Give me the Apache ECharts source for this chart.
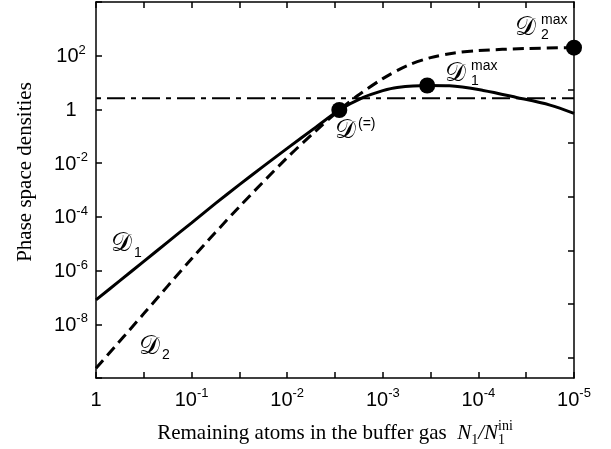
<!DOCTYPE html>
<html><head><meta charset="utf-8">
<script src="https://cdn.jsdelivr.net/npm/echarts@6/dist/echarts.min.js"></script>
<style>html,body{margin:0;padding:0;background:#fff}#c{width:611px;height:449px}</style>
</head><body><div id="c"></div>
<script>
// x: remaining atoms N1/N1ini, y: phase space densities
const ratioD1 = [1, 0.562, 0.316, 0.178, 0.1, 0.0562, 0.0316, 0.0178, 0.01, 0.00501, 0.00285, 0.00162, 0.001, 0.000708, 0.000343, 0.0002, 0.000089, 0.00004, 0.0000178, 0.00001];
const densD1  = [8.1e-8, 4.2e-7, 2.2e-6, 1.15e-5, 6.0e-5, 3.16e-4, 1.58e-3, 7.6e-3, 3.55e-2, 0.219, 0.95, 2.75, 5.0, 6.6, 7.8, 7.6, 5.1, 2.8, 1.45, 0.71];
const ratioD2 = [1, 0.316, 0.1, 0.0316, 0.01, 0.00501, 0.00285, 0.00178, 0.001, 0.000562, 0.000316, 0.000178, 0.0001, 0.0000316, 0.00001];
const densD2  = [2.3e-10, 2.5e-8, 2.75e-6, 2.4e-4, 1.6e-2, 0.16, 0.95, 3.5, 14, 42, 85, 126, 155, 186, 200];
const markRatio = [0.00285, 0.000343, 0.00001];
const markDens  = [0.95, 7.8, 200];
const becThreshold = 2.612;
const xRange = [1e-5, 1];
const yRange = [1e-10, 1e4];
const rightTickValues = [5.6, 0.056, 5.6e-4, 5.6e-6, 5.6e-8, 5.6e-10];

const L = Math.log10;
const pts = (xs, ys) => xs.map((x, i) => [L(x), L(ys[i])]);

const chart = echarts.init(document.getElementById('c'), null, {renderer: 'canvas'});
const black = '#000';
const sansTick = {color: black, fontFamily: 'Liberation Sans, Arial, sans-serif', fontSize: 20};
const rich = {
  b: {fontFamily: 'Liberation Sans, Arial', fontSize: 20, color: black, verticalAlign: 'bottom', lineHeight: 22},
  s: {fontFamily: 'Liberation Sans, Arial', fontSize: 13, color: black, verticalAlign: 'bottom', lineHeight: 22, padding: [0, 0, 10, 0]}
};
function expLabel(v) {
  const e = Math.round(v);
  if (Math.abs(v - e) > 1e-6) return '';
  if (e === 0) return '{b|1}';
  return '{b|10}{s|' + e + '}';
}
const axisLineStyle = {onZero: false, lineStyle: {color: black, width: 1.5}};
const tickStyle = {inside: true, length: 6, lineStyle: {color: black, width: 1.5}};

const option = {
  backgroundColor: '#fff',
  animation: false,
  grid: {left: 96, right: 37, top: 2, bottom: 71, containLabel: false, outerBoundsMode: 'none'},
  xAxis: [
    {type: 'value', min: L(xRange[0]), max: L(xRange[1]), interval: 0.5, inverse: true, position: 'bottom',
      axisLine: axisLineStyle, axisTick: tickStyle, splitLine: {show: false},
      axisLabel: {margin: 10, formatter: expLabel, rich: rich, ...sansTick}},
    {type: 'value', min: L(xRange[0]), max: L(xRange[1]), interval: 0.5, inverse: true, position: 'top',
      axisLine: axisLineStyle, axisTick: tickStyle, splitLine: {show: false}, axisLabel: {show: false}}
  ],
  yAxis: [
    {type: 'value', min: L(yRange[0]), max: L(yRange[1]), interval: 2, position: 'left',
      axisLine: axisLineStyle, axisTick: tickStyle, splitLine: {show: false},
      axisLabel: {margin: 25, align: 'center', rich: rich, ...sansTick,
        formatter: v => (v <= L(yRange[0]) + 0.01 || v >= L(yRange[1]) - 0.01) ? '' : expLabel(v)}},
    {type: 'value', min: L(yRange[0]), max: L(yRange[1]), position: 'right',
      axisLine: axisLineStyle, splitLine: {show: false}, axisLabel: {show: false},
      axisTick: {...tickStyle, customValues: rightTickValues.map(L)}}
  ],
  series: [
    {type: 'line', name: 'threshold', data: [[L(xRange[1]), L(becThreshold)], [L(xRange[0]), L(becThreshold)]],
      symbol: 'none', lineStyle: {color: black, width: 1.8, type: [5, 6, 18, 6]}, z: 1},
    {type: 'line', name: 'D1', data: pts(ratioD1, densD1), smooth: 0.3, symbol: 'none',
      lineStyle: {color: black, width: 3}, z: 2},
    {type: 'line', name: 'D2', data: pts(ratioD2, densD2), smooth: 0.3, symbol: 'none',
      lineStyle: {color: black, width: 3, type: [11, 6]}, z: 2},
    {type: 'scatter', name: 'marks', data: pts(markRatio, markDens), symbol: 'circle', symbolSize: 16,
      itemStyle: {color: black, opacity: 1}, z: 5}
  ]
};
chart.setOption(option);

// annotations (y given as text baseline)
const scriptFont = '26px "DejaVu Serif", "Liberation Serif", serif';
const smallFont = '14px "Liberation Sans", Arial, sans-serif';
function sizeOf(font) { const m = font.match(/(\d+)px/); return m ? +m[1] : 14; }
function t(text, x, y, font, align) {
  return {type: 'text', x: x, y: y + 0.22 * sizeOf(font), style: {text: text, font: font, fill: black, textAlign: align || 'left', textVerticalAlign: 'bottom'}, z: 10};
}
const cv = document.createElement('canvas').getContext('2d');
function w(text, font) { cv.font = font; return cv.measureText(text).width; }

const graphics = [];
// D1
graphics.push(t('\u{1D49F}', 111, 252, scriptFont));
graphics.push(t('1', 134, 257, smallFont));
// D2
graphics.push(t('\u{1D49F}', 139, 355, scriptFont));
graphics.push(t('2', 162, 359, smallFont));
// D(=)
graphics.push(t('\u{1D49F}', 335, 139, scriptFont));
graphics.push(t('(=)', 358, 128, smallFont));
// D1max
graphics.push(t('\u{1D49F}', 445, 82, scriptFont));
graphics.push(t('max', 471, 70, smallFont));
graphics.push(t('1', 471, 85, smallFont));
// D2max
graphics.push(t('\u{1D49F}', 515, 36, scriptFont));
graphics.push(t('max', 541, 24, smallFont));
graphics.push(t('2', 541, 39, smallFont));

// x-axis title
const serif = '21px "Liberation Serif", "Times New Roman", serif';
const serifI = 'italic 21px "Liberation Serif", "Times New Roman", serif';
const subF = '14px "Liberation Serif", serif';
const mainTxt = 'Remaining atoms in the buffer gas  ';
const parts = [
  [mainTxt, serif, 0],
  ['N', serifI, 0],
  ['1', subF, 5],
  ['/', serifI, 0],
  ['N', serifI, 0]
];
let total = 0;
parts.forEach(p => total += w(p[0], p[1]));
const tail = Math.max(w('1', subF), w('ini', subF));
total += tail;
let cx = 335 - total / 2;
const base = 439;
parts.forEach(p => { graphics.push(t(p[0], cx, base + p[2], p[1])); cx += w(p[0], p[1]); });
graphics.push(t('1', cx, base + 5, subF));
graphics.push(t('ini', cx, base - 9, subF));

// y-axis title
graphics.push({type: 'text', x: 25, y: 172, rotation: Math.PI / 2,
  style: {text: 'Phase space densities', font: serif, fill: black, textAlign: 'center', textVerticalAlign: 'middle'}, z: 10});

chart.setOption({graphic: graphics});
</script>
</body></html>
